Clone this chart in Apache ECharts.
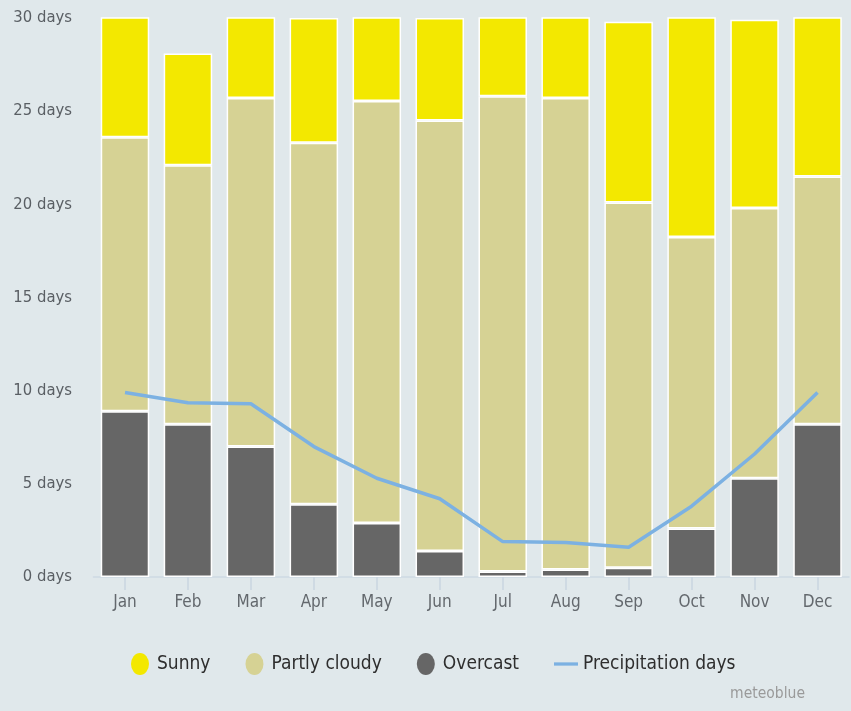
<!DOCTYPE html>
<html>
<head>
<meta charset="utf-8">
<title>Cloudy, sunny and precipitation days</title>
<script src="https://cdn.jsdelivr.net/npm/echarts@6/dist/echarts.min.js"></script>
<style>
  html, body { margin: 0; padding: 0; background: #e0e8eb; }
  #chart { width: 851px; height: 711px; }
</style>
</head>
<body>
<div id="chart"></div>
<script>
// Monthly averages of days per sky condition
const months = ['Jan', 'Feb', 'Mar', 'Apr', 'May', 'Jun', 'Jul', 'Aug', 'Sep', 'Oct', 'Nov', 'Dec'];
const overcast = [8.9, 8.2, 7.0, 3.9, 2.9, 1.4, 0.3, 0.4, 0.5, 2.6, 5.3, 8.2];
const partlyCloudy = [14.7, 13.9, 18.7, 19.4, 22.65, 23.1, 25.5, 25.3, 19.6, 15.65, 14.5, 13.3];
const sunny = [7.4, 6.0, 5.3, 6.7, 5.45, 5.5, 5.2, 5.3, 9.7, 12.75, 10.1, 9.5];
const precipitationDays = [9.9, 9.35, 9.3, 7.0, 5.3, 4.2, 1.9, 1.85, 1.6, 3.8, 6.6, 9.9];
const yTicks = { min: 0, max: 30, step: 5 };

const FONT = "'DejaVu Sans Condensed', 'DejaVu Sans', sans-serif";
const ellipse = 'path://M9,0 A9,11 0 1,1 9,22 A9,11 0 1,1 9,0 Z';
const dash = 'path://M0,0 H22 V3 H0 Z';

const barBase = {
  type: 'bar',
  stack: 'days',
  barWidth: 48.5,
  clip: true
};

const chart = echarts.init(document.getElementById('chart'), null, { renderer: 'canvas' });

chart.setOption({
  backgroundColor: '#e0e8eb',
  animation: false,
  textStyle: { fontFamily: FONT },
  grid: { left: 93.5, right: 2, top: 18, bottom: 134, containLabel: false },
  legend: {
    left: 126,
    top: 648,
    itemWidth: 24,
    itemHeight: 22,
    itemGap: 35,
    itemStyle: { borderWidth: 0 },
    textStyle: { fontFamily: FONT, fontSize: 19, color: '#2e2e2e' },
    data: [
      { name: 'Sunny', icon: ellipse },
      { name: 'Partly cloudy', icon: ellipse },
      { name: 'Overcast', icon: ellipse },
      { name: 'Precipitation days', icon: dash }
    ]
  },
  xAxis: {
    type: 'category',
    data: months,
    axisLine: { show: true, lineStyle: { color: '#cdd9e4', width: 1.5 } },
    axisTick: { show: true, alignWithLabel: true, length: 13, lineStyle: { color: '#c9d5e1', width: 1.5 } },
    axisLabel: { color: '#63686d', fontSize: 17, fontFamily: FONT, margin: 17 },
    splitLine: { show: false }
  },
  yAxis: {
    type: 'value',
    min: yTicks.min,
    max: yTicks.max,
    interval: yTicks.step,
    axisLine: { show: false },
    axisTick: { show: false },
    splitLine: { show: false },
    axisLabel: {
      color: '#5a5f64',
      fontSize: 16.5,
      fontFamily: FONT,
      margin: 21.5,
      formatter: '{value} days'
    }
  },
  series: [
    Object.assign({}, barBase, {
      name: 'Overcast',
      data: overcast,
      itemStyle: { color: '#666666', borderColor: '#ffffff', borderWidth: 1.5 }
    }),
    Object.assign({}, barBase, {
      name: 'Partly cloudy',
      data: partlyCloudy,
      itemStyle: { color: '#d6d294', borderColor: '#ffffff', borderWidth: 1.5 }
    }),
    Object.assign({}, barBase, {
      name: 'Sunny',
      data: sunny,
      itemStyle: { color: '#f3e800', borderColor: '#ffffff', borderWidth: 1.5 }
    }),
    {
      name: 'Precipitation days',
      type: 'line',
      data: precipitationDays,
      symbol: 'none',
      z: 5,
      lineStyle: { color: '#7cb1e2', width: 3.5 },
      itemStyle: { color: '#7cb1e2' }
    }
  ],
  graphic: [
    {
      type: 'text',
      right: 46,
      top: 686,
      style: { text: 'meteoblue', fill: '#9a9a9a', fontSize: 15.5, fontFamily: FONT }
    }
  ]
});
</script>
</body>
</html>
